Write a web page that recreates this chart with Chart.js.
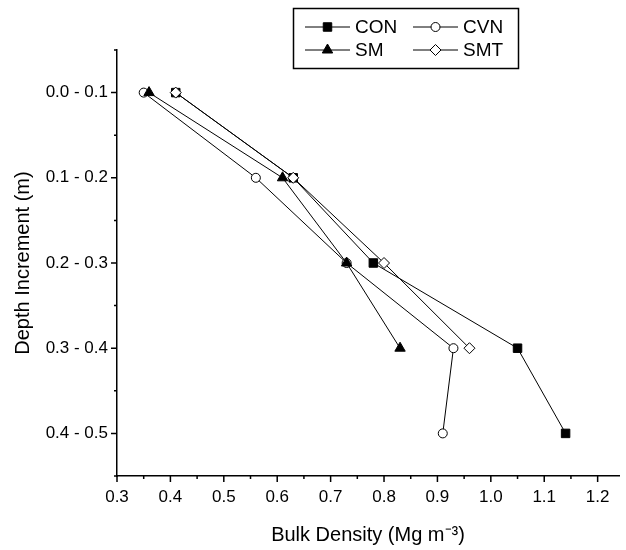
<!DOCTYPE html>
<html>
<head>
<meta charset="utf-8">
<script src="https://cdn.jsdelivr.net/npm/chart.js@4/dist/chart.umd.min.js"></script>
<style>
html, body { margin: 0; padding: 0; background: #fff; }
#wrap { width: 626px; height: 550px; }
</style>
</head>
<body>
<div id="wrap"><canvas id="chart"></canvas></div>
<script>
const depthLabels = ['0.0 - 0.1', '0.1 - 0.2', '0.2 - 0.3', '0.3 - 0.4', '0.4 - 0.5'];
const depthMid = [0.05, 0.15, 0.25, 0.35, 0.45];
const conValues = [0.41, 0.63, 0.78, 1.05, 1.14];
const cvnValues = [0.35, 0.56, 0.73, 0.93, 0.91];
const smValues = [0.36, 0.61, 0.73, 0.83];
const smtValues = [0.41, 0.63, 0.80, 0.96];

const FONT = '"Liberation Sans", Arial, sans-serif';

function toPoints(values) {
    return values.map((v, i) => ({ x: v, y: depthMid[i] }));
}

// ticks every 0.05, labelled ones are the long ones
const tickMarks = {
    id: 'tickMarks',
    afterDraw(chart) {
        const ctx = chart.ctx;
        const xs = chart.scales.x;
        const ys = chart.scales.y;
        ctx.save();
        ctx.strokeStyle = '#000';
        ctx.lineWidth = 1.5;
        ctx.beginPath();
        xs.ticks.forEach(t => {
            const px = xs.getPixelForValue(t.value);
            const len = t.label ? 6 : 3;
            ctx.moveTo(px, xs.top);
            ctx.lineTo(px, xs.top + len);
        });
        ys.ticks.forEach(t => {
            const py = ys.getPixelForValue(t.value);
            const len = t.label ? 6 : 3;
            ctx.moveTo(ys.right, py);
            ctx.lineTo(ys.right - len, py);
        });
        ctx.stroke();
        ctx.restore();
    }
};

const boxLegend = {
    id: 'boxLegend',
    afterDraw(chart) {
        const ctx = chart.ctx;
        const cells = [[305, 27], [413, 27], [305, 50], [413, 50]];
        ctx.save();
        ctx.strokeStyle = '#000';
        ctx.lineWidth = 1.5;
        ctx.strokeRect(293.5, 8.5, 225, 60);
        ctx.font = '19px ' + FONT;
        ctx.textBaseline = 'middle';
        chart.data.datasets.forEach((ds, i) => {
            const [x, y] = cells[i];
            ctx.lineWidth = 1;
            ctx.strokeStyle = '#000';
            ctx.beginPath();
            ctx.moveTo(x, y);
            ctx.lineTo(x + 45, y);
            ctx.stroke();
            ctx.fillStyle = ds.pointBackgroundColor;
            ctx.strokeStyle = ds.pointBorderColor;
            Chart.helpers.drawPoint(ctx, {
                pointStyle: ds.pointStyle,
                radius: ds.pointRadius,
                borderWidth: 1,
                rotation: 0
            }, x + 22.5, y);
            ctx.fillStyle = '#000';
            ctx.fillText(ds.label, x + 50, y + 1);
        });
        ctx.restore();
    }
};

function series(label, values, style, fill, radius, order) {
    return {
        label: label,
        data: toPoints(values),
        showLine: true,
        borderColor: '#000',
        borderWidth: 1,
        pointStyle: style,
        pointRadius: radius,
        pointBackgroundColor: fill,
        pointBorderColor: '#000',
        pointBorderWidth: 1,
        order: order
    };
}

new Chart(document.getElementById('chart'), {
    type: 'scatter',
    data: {
        datasets: [
            series('CON', conValues, 'rect', '#000', 6, 4),
            series('CVN', cvnValues, 'circle', '#fff', 4.5, 3),
            series('SM', smValues, 'triangle', '#000', 6, 2),
            series('SMT', smtValues, 'rectRot', '#fff', 5.5, 1)
        ]
    },
    options: {
        responsive: true,
        maintainAspectRatio: false,
        animation: false,
        events: [],
        layout: { padding: { top: 50, right: 0, left: 0, bottom: 0 } },
        plugins: {
            legend: { display: false },
            tooltip: { enabled: false }
        },
        scales: {
            x: {
                type: 'linear',
                min: 0.3,
                max: 1.24,
                afterFit: s => { s.height = 74; },
                afterBuildTicks: s => {
                    const t = [];
                    for (let i = 6; i <= 24; i++) t.push({ value: i / 20 });
                    s.ticks = t;
                },
                ticks: {
                    autoSkip: false,
                    maxRotation: 0,
                    padding: 11,
                    color: '#000',
                    font: { family: FONT, size: 17 },
                    callback: v => (Math.round(v * 20) % 2 === 0 ? v.toFixed(1) : '')
                },
                grid: { display: true, drawOnChartArea: false, drawTicks: false },
                border: { display: true, color: '#000', width: 1.5 },
                title: {
                    display: true,
                    text: 'Bulk Density (Mg m⁻³)',
                    color: '#000',
                    font: { family: FONT, size: 20 },
                    padding: { top: 0, bottom: 3 }
                }
            },
            y: {
                type: 'linear',
                reverse: true,
                min: 0,
                max: 0.5,
                afterFit: s => { s.width = 117; },
                afterBuildTicks: s => {
                    const t = [];
                    for (let i = 0; i <= 10; i++) t.push({ value: i / 20 });
                    s.ticks = t;
                },
                ticks: {
                    autoSkip: false,
                    padding: 9,
                    color: '#000',
                    font: { family: FONT, size: 17 },
                    callback: v => {
                        const i = Math.round(v * 20);
                        return i % 2 === 1 ? depthLabels[(i - 1) / 2] : '';
                    }
                },
                grid: { display: true, drawOnChartArea: false, drawTicks: false },
                border: { display: true, color: '#000', width: 1.5 },
                title: {
                    display: true,
                    text: 'Depth Increment (m)',
                    color: '#000',
                    font: { family: FONT, size: 20 },
                    padding: { top: 11, bottom: 0 }
                }
            }
        }
    },
    plugins: [tickMarks, boxLegend]
});
</script>
</body>
</html>
